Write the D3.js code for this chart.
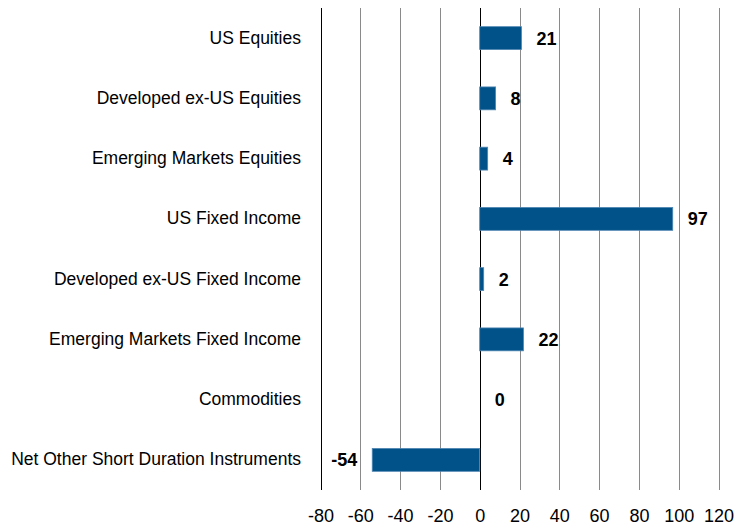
<!DOCTYPE html>
<html>
<head>
<meta charset="utf-8">
<script src="https://cdn.jsdelivr.net/npm/d3@7/dist/d3.min.js"></script>
<style>
  body { margin: 0; background: #fff; }
  text { font-family: 'Liberation Sans', Arial, sans-serif; fill: #000; }
</style>
</head>
<body>
<svg id="chart"></svg>
<script>
// Data
const categories = [
  'US Equities',
  'Developed ex-US Equities',
  'Emerging Markets Equities',
  'US Fixed Income',
  'Developed ex-US Fixed Income',
  'Emerging Markets Fixed Income',
  'Commodities',
  'Net Other Short Duration Instruments'
]
const values = [21, 8, 4, 97, 2, 22, 0, -54]
const tickValues = [-80, -60, -40, -20, 0, 20, 40, 60, 80, 100, 120]
const sourceNote = 'Source: PIMCO'

const svgWidth = 746
const svgHeight = 530

const svg = d3.select('#chart')
  .attr('width', svgWidth)
  .attr('height', svgHeight)

// Scales
const xScale = d3.scaleLinear()
  .domain([-80, 120])
  .range([320.5, 718.5])

const yScale = d3.scaleBand()
  .domain(categories)
  .range([8, 490])
  .paddingInner(0.62)
  .paddingOuter(0.31)

const rows = categories.map((c, i) => ({ category: c, value: values[i] }))

// Vertical grid lines
svg.append('g')
  .selectAll('line')
  .data(tickValues)
  .enter()
  .append('line')
  .attr('x1', d => Math.round(xScale(d)) + 0.5)
  .attr('x2', d => Math.round(xScale(d)) + 0.5)
  .attr('y1', 8)
  .attr('y2', 490)
  .attr('stroke', d => (d === 0 || d === -80) ? '#000' : '#8a8a8a')
  .attr('stroke-width', 1)

// Bars
svg.append('g')
  .selectAll('rect')
  .data(rows)
  .enter()
  .append('rect')
  .attr('x', d => xScale(Math.min(0, d.value)))
  .attr('y', d => yScale(d.category))
  .attr('width', d => Math.abs(xScale(d.value) - xScale(0)))
  .attr('height', yScale.bandwidth())
  .attr('fill', '#005288')
  .attr('stroke', '#4f86b3')
  .attr('stroke-width', 0.8)

// Value labels (plain hyphen for negatives, as in the original)
svg.append('g')
  .selectAll('text')
  .data(rows)
  .enter()
  .append('text')
  .attr('x', d => d.value < 0 ? xScale(d.value) - 15 : xScale(d.value) + 15)
  .attr('y', d => yScale(d.category) + yScale.bandwidth() / 2)
  .attr('dy', '0.36em')
  .attr('text-anchor', d => d.value < 0 ? 'end' : 'start')
  .style('font-size', '18px')
  .style('font-weight', 'bold')
  .text(d => String(d.value))

// Category labels
const yAxis = d3.axisLeft(yScale).tickSize(0).tickPadding(0)
svg.append('g')
  .attr('transform', 'translate(301, 0)')
  .call(yAxis)
  .call(g => g.select('.domain').remove())
  .call(g => g.selectAll('text')
    .style('font-size', '17.5px')
    .attr('font-family', null)
    .attr('fill', '#000'))

// X tick labels
const xAxis = d3.axisBottom(xScale)
  .tickValues(tickValues)
  .tickFormat(d => String(d))
  .tickSize(0)
  .tickPadding(0)
svg.append('g')
  .attr('transform', 'translate(0, 509)')
  .call(xAxis)
  .call(g => g.select('.domain').remove())
  .call(g => g.selectAll('text')
    .style('font-size', '18px')
    .attr('font-family', null)
    .attr('fill', '#000'))

// Source note, cut off at the bottom edge like the original
svg.append('text')
  .attr('x', 25)
  .attr('y', 540)
  .style('font-size', '14px')
  .style('font-weight', 'bold')
  .attr('fill', '#555')
  .text(sourceNote)
</script>
</body>
</html>
